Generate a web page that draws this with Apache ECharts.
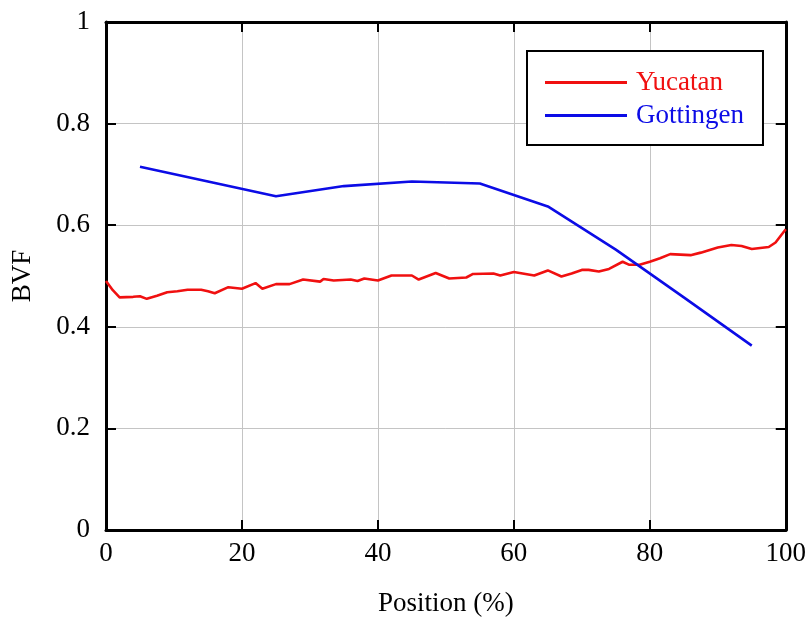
<!DOCTYPE html>
<html>
<head>
<meta charset="utf-8">
<script src="https://cdn.jsdelivr.net/npm/echarts@6/dist/echarts.min.js"></script>
<style>
  html, body { margin: 0; padding: 0; background: #fff; }
  #chart { width: 809px; height: 622px; }
</style>
</head>
<body>
<div id="chart"></div>
<script>
// Bone volume fraction along the specimen for two sites
const yucatanPos = [0, 1, 2, 4, 5, 6, 7.5, 9, 10.5, 12, 14, 15, 16, 18, 20, 22, 23, 25, 27, 29,
  31.5, 32, 33.5, 36, 37, 38, 40, 42, 45, 46, 48.5, 50.5, 53, 54, 57, 58, 60, 63, 65, 67,
  68.5, 70, 71, 72.5, 74, 76, 77, 78.5, 80, 81.5, 83, 86, 87.5, 90, 92, 93.5, 95, 97.5, 98.5, 100];
const yucatanBVF = [0.490, 0.472, 0.458, 0.459, 0.460, 0.455, 0.461, 0.468, 0.470, 0.473, 0.473, 0.470, 0.466, 0.478, 0.475, 0.486, 0.475, 0.484, 0.484, 0.493,
  0.489, 0.494, 0.491, 0.493, 0.490, 0.495, 0.491, 0.501, 0.501, 0.493, 0.506, 0.495, 0.497, 0.504, 0.505, 0.501, 0.508, 0.501, 0.511, 0.499,
  0.505, 0.512, 0.512, 0.509, 0.514, 0.528, 0.522, 0.522, 0.528, 0.535, 0.543, 0.541, 0.546, 0.556, 0.561, 0.559, 0.553, 0.557, 0.566, 0.592];

const gottingenPos = [5, 15, 25, 35, 45, 55, 65, 75, 85, 95];
const gottingenBVF = [0.715, 0.686, 0.657, 0.677, 0.686, 0.682, 0.637, 0.552, 0.458, 0.363];

const xTicks = [0, 20, 40, 60, 80, 100];
const yTicks = [0, 0.2, 0.4, 0.6, 0.8, 1];

const RED = '#f01010';
const BLUE = '#0c0ce6';
const FONT = '"Liberation Serif", "Times New Roman", serif';
const FS = 27;

const pairs = (xs, ys) => xs.map((x, i) => [x, ys[i]]);

const chart = echarts.init(document.getElementById('chart'), null, { renderer: 'canvas' });

const frameLine = { show: true, onZero: false, lineStyle: { color: '#000', width: 3 } };
const innerTick = { show: true, inside: true, length: 10, lineStyle: { color: '#000', width: 2 } };
const grayGrid = { show: true, lineStyle: { color: '#c4c4c4', width: 1 } };

chart.setOption({
  animation: false,
  backgroundColor: '#fff',
  textStyle: { fontFamily: FONT },
  grid: { left: 106, right: 23, top: 22, bottom: 90, containLabel: false },
  legend: {
    orient: 'vertical',
    left: 527,
    top: 51,
    padding: [18, 19, 16, 18],
    itemGap: 6,
    itemWidth: 82,
    itemHeight: 3,
    icon: 'rect',
    borderColor: '#000',
    borderWidth: 2,
    backgroundColor: '#fff',
    textStyle: { fontFamily: FONT, fontSize: FS, padding: [0, 0, 0, 4] },
    data: [
      { name: 'Yucatan', textStyle: { color: RED } },
      { name: 'Gottingen', textStyle: { color: BLUE } }
    ]
  },
  xAxis: [
    {
      type: 'value', min: 0, max: 100, interval: 20,
      name: 'Position (%)', nameLocation: 'middle', nameGap: 60,
      nameTextStyle: { fontFamily: FONT, fontSize: FS, color: '#000' },
      axisLine: frameLine, axisTick: innerTick, splitLine: grayGrid,
      axisLabel: { fontFamily: FONT, fontSize: FS, color: '#000', margin: 10,
        formatter: v => xTicks.includes(v) ? String(v) : '' }
    },
    {
      type: 'value', position: 'top', min: 0, max: 100, interval: 20,
      axisLine: frameLine, axisTick: innerTick, splitLine: { show: false },
      axisLabel: { show: false }
    }
  ],
  yAxis: [
    {
      type: 'value', min: 0, max: 1, interval: 0.2,
      name: 'BVF', nameLocation: 'middle', nameGap: 70,
      nameTextStyle: { fontFamily: FONT, fontSize: FS, color: '#000' },
      axisLine: frameLine, axisTick: innerTick, splitLine: grayGrid,
      axisLabel: { fontFamily: FONT, fontSize: FS, color: '#000', margin: 16,
        formatter: v => { const t = yTicks.find(k => Math.abs(k - v) < 1e-9); return t === undefined ? '' : String(t); } }
    },
    {
      type: 'value', position: 'right', min: 0, max: 1, interval: 0.2,
      axisLine: frameLine, axisTick: innerTick, splitLine: { show: false },
      axisLabel: { show: false }
    }
  ],
  series: [
    {
      name: 'Yucatan', type: 'line', data: pairs(yucatanPos, yucatanBVF),
      showSymbol: false, symbol: 'none', smooth: false,
      lineStyle: { color: RED, width: 2.6 }, itemStyle: { color: RED }, z: 3
    },
    {
      name: 'Gottingen', type: 'line', data: pairs(gottingenPos, gottingenBVF),
      showSymbol: false, symbol: 'none', smooth: false,
      lineStyle: { color: BLUE, width: 2.6 }, itemStyle: { color: BLUE }, z: 4
    }
  ]
});
</script>
</body>
</html>
